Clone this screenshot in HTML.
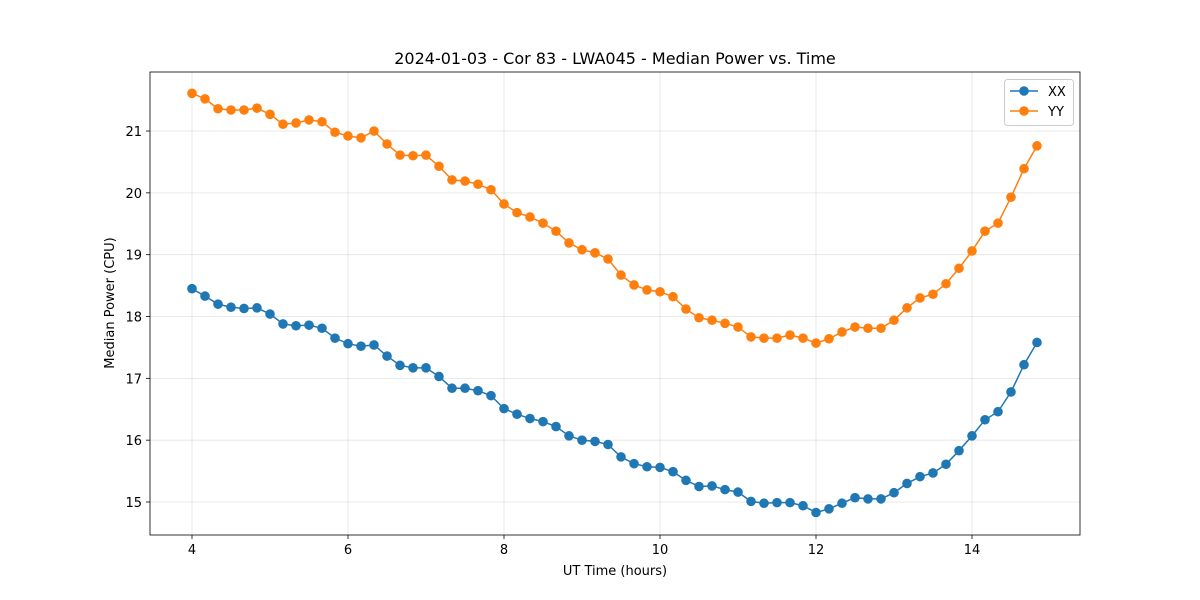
<!DOCTYPE html>
<html><head><meta charset="utf-8"><style>body{margin:0;background:#fff}svg{display:block;font-family:"DejaVu Sans","Liberation Sans",sans-serif}</style></head>
<body>
<svg id="chart" width="1200" height="600"></svg>
<script>
const times = [];
for (let i = 0; i < 66; i++) times.push(4 + i / 6);
const xxValues = [18.45,18.33,18.2,18.15,18.13,18.14,18.04,17.88,17.85,17.86,17.81,17.65,17.56,17.52,17.54,17.36,17.21,17.17,17.17,17.03,16.84,16.84,16.8,16.72,16.51,16.42,16.35,16.3,16.22,16.07,16.0,15.98,15.93,15.73,15.62,15.57,15.56,15.49,15.35,15.25,15.26,15.2,15.16,15.01,14.98,14.99,14.99,14.94,14.83,14.89,14.98,15.07,15.05,15.05,15.15,15.3,15.41,15.47,15.61,15.83,16.07,16.33,16.46,16.78,17.22,17.58];
const yyValues = [21.61,21.52,21.36,21.34,21.34,21.37,21.27,21.11,21.13,21.18,21.15,20.98,20.92,20.89,21.0,20.79,20.61,20.6,20.61,20.43,20.21,20.19,20.14,20.05,19.82,19.68,19.61,19.51,19.38,19.19,19.08,19.03,18.93,18.67,18.51,18.43,18.4,18.32,18.12,17.98,17.94,17.89,17.83,17.67,17.65,17.65,17.7,17.65,17.57,17.64,17.75,17.83,17.81,17.81,17.94,18.14,18.3,18.36,18.53,18.78,19.06,19.38,19.51,19.93,20.39,20.76];
const xTicks = [4,6,8,10,12,14];
const yTicks = [15,16,17,18,19,20,21];

const NS = "http://www.w3.org/2000/svg";
const svg = document.getElementById('chart');
const L=150,R=1080,T=72,B=535;
const xs = v => 192 + (v-4)*78;
const ys = v => 502 - (v-15)*61.83;
function mk(tag, attrs, parent){const e=document.createElementNS(NS,tag);for(const k in attrs)e.setAttribute(k,attrs[k]);(parent||svg).appendChild(e);return e;}

const grid = mk('g',{});


xTicks.forEach(t=>{
  mk('line',{x1:xs(t),x2:xs(t),y1:T,y2:B,stroke:'#b0b0b0','stroke-opacity':0.35,'stroke-width':0.8},grid);
  mk('line',{x1:xs(t),x2:xs(t),y1:B,y2:B+4,stroke:'#000','stroke-width':0.8});
  const tx=mk('text',{x:xs(t),y:B+19,'text-anchor':'middle','font-size':13});
  tx.textContent=t;
  
  
});
yTicks.forEach(t=>{
  mk('line',{x1:L,x2:R,y1:ys(t),y2:ys(t),stroke:'#b0b0b0','stroke-opacity':0.35,'stroke-width':0.8},grid);
  mk('line',{x1:L-4,x2:L,y1:ys(t),y2:ys(t),stroke:'#000','stroke-width':0.8});
  const tx=mk('text',{x:L-8,y:ys(t)+5,'text-anchor':'end','font-size':13});
  tx.textContent=t;
  
  
});

function series(vals,color,name){
  const g=mk('g',{});
  
  
  mk('polyline',{points:vals.map((v,i)=>xs(times[i])+','+ys(v)).join(' '),fill:'none',stroke:color,'stroke-width':1.5},g);
  vals.forEach((v,i)=>{
    const c=mk('circle',{cx:xs(times[i]),cy:ys(v),r:4.8,fill:color},g);
    
    
  });
}
series(xxValues,'#1f77b4','xx-series');
series(yyValues,'#ff7f0e','yy-series');

mk('rect',{x:L,y:T,width:R-L,height:B-T,fill:'none',stroke:'#000','stroke-width':0.8});

const title=mk('text',{x:615,y:64,'text-anchor':'middle','font-size':16});
title.textContent='2024-01-03 - Cor 83 - LWA045 - Median Power vs. Time';


const xl=mk('text',{x:615,y:575,'text-anchor':'middle','font-size':13});
xl.textContent='UT Time (hours)';


const yl=mk('text',{x:114,y:303,'text-anchor':'middle','font-size':13,transform:'rotate(-90 114 303)'});
yl.textContent='Median Power (CPU)';



const lg=mk('g',{});


mk('rect',{x:1004.5,y:79.5,width:69,height:46,rx:3,fill:'#fff',stroke:'#ccc'},lg);
[['XX','#1f77b4',91],['YY','#ff7f0e',111]].forEach(([n,c,y])=>{
  mk('line',{x1:1010,x2:1038,y1:y,y2:y,stroke:c,'stroke-width':1.5},lg);
  mk('circle',{cx:1024,cy:y,r:4.8,fill:c},lg);
  const t=mk('text',{x:1048,y:y+5,'font-size':13},lg);
  t.textContent=n;
  
  
});
</script>
</body></html>
